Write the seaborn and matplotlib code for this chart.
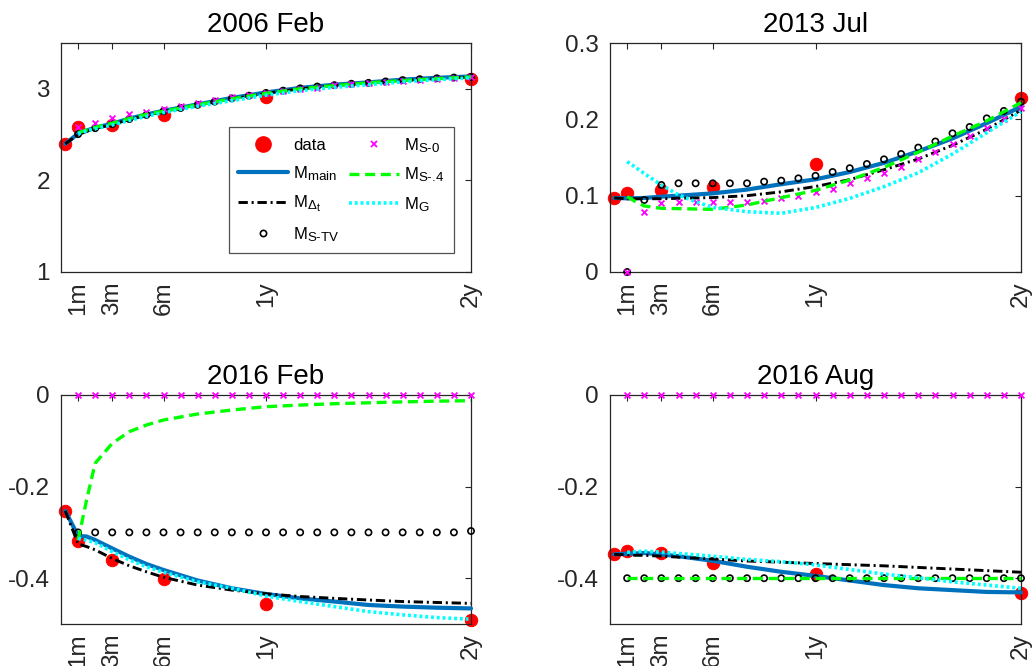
import numpy as np
import pandas as pd
import matplotlib
matplotlib.use("Agg")
import matplotlib.pyplot as plt
import matplotlib._mathtext as _mt
import seaborn as sns
from matplotlib.lines import Line2D

# ---------------- data ----------------
X_DATA = [0.25, 1, 3, 6, 12, 24]
X_LINE = [0.25, 1, 1.5, 2, 3, 4, 5, 6, 8, 10, 12, 14, 16, 18, 20, 22, 24]
X_MK = list(range(1, 25))
TICK_POS = [1, 3, 6, 12, 24]
TICK_LAB = ["1m", "3m", "6m", "1y", "2y"]
TITLES = ["2006 Feb", "2013 Jul", "2016 Feb", "2016 Aug"]
NAN = np.nan

# 2006 Feb
FEB06_DATA = [2.40, 2.58, 2.60, 2.71, 2.91, 3.11]
FEB06_MAIN = [2.40, 2.51, 2.545, 2.575, 2.62, 2.675, 2.72, 2.76, 2.83, 2.90, 2.96, 3.01, 3.045, 3.07, 3.10, 3.12, 3.135]
FEB06_DT = [2.40, 2.50, 2.535, 2.565, 2.61, 2.665, 2.71, 2.75, 2.82, 2.89, 2.95, 3.00, 3.035, 3.065, 3.09, 3.11, 3.13]
FEB06_S4 = [NAN, 2.52, 2.55, 2.58, 2.625, 2.675, 2.72, 2.755, 2.825, 2.89, 2.95, 3.00, 3.035, 3.065, 3.09, 3.11, 3.13]
FEB06_G = [NAN, 2.51, 2.54, 2.565, 2.605, 2.655, 2.70, 2.74, 2.81, 2.87, 2.93, 2.98, 3.015, 3.045, 3.075, 3.10, 3.12]
FEB06_S0 = [2.58, 2.63, 2.68, 2.72, 2.75, 2.78, 2.81, 2.85, 2.88, 2.91, 2.93, 2.95,
            2.98, 3.00, 3.01, 3.04, 3.05, 3.06, 3.07, 3.09, 3.10, 3.11, 3.12, 3.125]
FEB06_STV = [2.505, 2.57, 2.615, 2.67, 2.715, 2.755, 2.79, 2.825, 2.86, 2.895, 2.925, 2.955,
             2.98, 3.005, 3.025, 3.04, 3.055, 3.065, 3.08, 3.095, 3.105, 3.115, 3.123, 3.13]

# 2013 Jul
JUL13_DATA = [0.097, 0.103, 0.107, 0.111, 0.1415, 0.2275]
JUL13_MAIN = [0.097, 0.0965, 0.0967, 0.097, 0.0987, 0.100, 0.1015, 0.103, 0.108, 0.115, 0.1214, 0.131, 0.143, 0.158, 0.175, 0.195, 0.2166]
JUL13_DT = [0.097, 0.096, 0.096, 0.096, 0.096, 0.0965, 0.097, 0.0975, 0.100, 0.105, 0.112, 0.121, 0.134, 0.148, 0.166, 0.187, 0.212]
JUL13_S4 = [NAN, 0.0987, 0.092, 0.0865, 0.0834, 0.083, 0.0825, 0.0821, 0.0878, 0.0974, 0.107, 0.1205, 0.137, 0.157, 0.178, 0.198, 0.222]
JUL13_G = [NAN, 0.1445, 0.137, 0.129, 0.114, 0.101, 0.092, 0.0847, 0.079, 0.0769, 0.0845, 0.0965, 0.1118, 0.130, 0.1546, 0.1825, 0.210]
JUL13_S0 = [0.0, 0.078, 0.0904, 0.0917, 0.0917, 0.092, 0.0917, 0.0917, 0.0934, 0.0966, 0.0996, 0.105,
            0.109, 0.1166, 0.123, 0.130, 0.138, 0.148, 0.157, 0.168, 0.178, 0.1887, 0.201, 0.2144]
JUL13_STV = [0.0, 0.0943, 0.114, 0.1162, 0.1162, 0.1162, 0.1162, 0.1162, 0.1184, 0.1197, 0.1227, 0.126,
             0.131, 0.136, 0.1415, 0.1476, 0.1546, 0.163, 0.171, 0.1817, 0.190, 0.2013, 0.211, 0.223]

# 2016 Feb
FEB16_DATA = [-0.253, -0.319, -0.360, -0.402, -0.456, -0.491]
FEB16_MAIN = [-0.253, -0.3075, -0.309, -0.3166, -0.335, -0.353, -0.369, -0.382, -0.405, -0.422, -0.4345, -0.444, -0.451, -0.4585, -0.462, -0.4644, -0.466]
FEB16_DT = [-0.253, -0.325, -0.331, -0.338, -0.357, -0.373, -0.386, -0.398, -0.415, -0.426, -0.434, -0.440, -0.444, -0.4476, -0.451, -0.453, -0.455]
FEB16_S4 = [NAN, -0.317, -0.229, -0.149, -0.1055, -0.080, -0.0655, -0.0546, -0.0415, -0.0328, -0.0255, -0.022, -0.019, -0.017, -0.015, -0.0135, -0.0124]
FEB16_G = [NAN, -0.313, -0.317, -0.3225, -0.342, -0.360, -0.375, -0.387, -0.408, -0.422, -0.439, -0.451, -0.462, -0.473, -0.480, -0.486, -0.4895]
FEB16_S0 = [0.0] * 24
FEB16_STV = [-0.30] * 23 + [-0.297]

# 2016 Aug
AUG16_DATA = [-0.348, -0.340, -0.346, -0.366, -0.391, -0.433]
AUG16_MAIN = [-0.348, -0.3465, -0.346, -0.345, -0.348, -0.352, -0.357, -0.362, -0.375, -0.386, -0.395, -0.405, -0.415, -0.422, -0.426, -0.430, -0.431]
AUG16_DT = [-0.348, -0.349, -0.350, -0.350, -0.352, -0.354, -0.356, -0.358, -0.3625, -0.365, -0.368, -0.3705, -0.373, -0.3765, -0.380, -0.3835, -0.387]
AUG16_S4 = [NAN] + [-0.40] * 16
AUG16_G = [NAN, -0.3435, -0.342, -0.341, -0.343, -0.346, -0.349, -0.352, -0.359, -0.364, -0.371, -0.381, -0.391, -0.399, -0.408, -0.415, -0.422]
AUG16_S0 = [0.0] * 24
AUG16_STV = [-0.40] * 24

PANELS = [
    (FEB06_DATA, FEB06_MAIN, FEB06_DT, FEB06_STV, FEB06_S0, FEB06_S4, FEB06_G),
    (JUL13_DATA, JUL13_MAIN, JUL13_DT, JUL13_STV, JUL13_S0, JUL13_S4, JUL13_G),
    (FEB16_DATA, FEB16_MAIN, FEB16_DT, FEB16_STV, FEB16_S0, FEB16_S4, FEB16_G),
    (AUG16_DATA, AUG16_MAIN, AUG16_DT, AUG16_STV, AUG16_S0, AUG16_S4, AUG16_G),
]
YLIMS = [(1, 3.5), (0, 0.3), (-0.5, 0), (-0.5, 0)]
YTICKS = [[1, 2, 3], [0, 0.1, 0.2, 0.3], [-0.4, -0.2, 0], [-0.4, -0.2, 0]]
YTICKLAB = [["1", "2", "3"], ["0", "0.1", "0.2", "0.3"], ["-0.4", "-0.2", "0"], ["-0.4", "-0.2", "0"]]
LEGEND_LABELS = [
    "data",
    r"$\mathregular{M_{\text{main}}}$",
    r"$\mathregular{M_{\Delta_t}}$",
    r"$\mathregular{M_{\text{S-TV}}}$",
    r"$\mathregular{M_{\text{S-0}}}$",
    r"$\mathregular{M_{\text{S-.4}}}$",
    r"$\mathregular{M_{\text{G}}}$",
]

# ---------------- style ----------------
sns.set_theme(style="white")
plt.rcParams["font.family"] = ["Liberation Sans", "DejaVu Sans"]
plt.rcParams["axes.unicode_minus"] = False
plt.rcParams["mathtext.fontset"] = "custom"
plt.rcParams["mathtext.rm"] = "Liberation Sans"
plt.rcParams["mathtext.it"] = "Liberation Sans"
plt.rcParams["mathtext.sf"] = "Liberation Sans"
try:
    _mt.SHRINK_FACTOR = 0.8
except Exception:
    pass

AX_COL = "#262626"
C_BLUE = "#0072BD"
LS_DT = (0, (3.2, 1.3, 0.7, 1.3))
LS_S4 = (0, (3.0, 1.7))
LS_G = (0, (0.8, 0.8))

fig = plt.figure(figsize=(10.35, 6.66), dpi=100)
W, H = 1035, 666
boxes = [(61, 43, 471, 272), (610, 43, 1021, 272), (61, 395, 471, 624), (610, 395, 1021, 624)]


def line(ax, y, **kw):
    df = pd.DataFrame({"x": X_LINE, "y": y}).dropna()
    sns.lineplot(data=df, x="x", y="y", ax=ax, estimator=None, sort=False,
                 clip_on=False, legend=False, **kw)


for i, (box, vals) in enumerate(zip(boxes, PANELS)):
    l, t, r, b = box
    ax = fig.add_axes([l / W, 1 - b / H, (r - l) / W, (b - t) / H])
    d, m_main, m_dt, m_stv, m_s0, m_s4, m_g = vals
    sns.scatterplot(x=X_DATA, y=d, ax=ax, color="red", edgecolor="red", s=80,
                    clip_on=False, zorder=2, legend=False)
    line(ax, m_main, color=C_BLUE, linewidth=3.0, zorder=3)
    line(ax, m_dt, color="black", linewidth=2.1, linestyle=LS_DT, zorder=4)
    sns.scatterplot(x=X_MK, y=m_stv, ax=ax, marker="o", facecolor="none", edgecolor="black",
                    linewidth=1.2, s=20, clip_on=False, zorder=5, legend=False)
    sns.scatterplot(x=X_MK, y=m_s0, ax=ax, marker="x", color="#FF00FF",
                    linewidth=1.3, s=18, clip_on=False, zorder=6, legend=False)
    line(ax, m_s4, color="#00FF00", linewidth=2.4, linestyle=LS_S4, zorder=7)
    line(ax, m_g, color="#00FFFF", linewidth=2.6, linestyle=LS_G, zorder=8)

    ax.set_xlim(0, 24)
    ax.set_ylim(*YLIMS[i])
    ax.set_xticks(TICK_POS)
    ax.set_xticklabels(TICK_LAB, rotation=90)
    ax.set_yticks(YTICKS[i])
    ax.set_yticklabels(YTICKLAB[i])
    ax.set_xlabel("")
    ax.set_ylabel("")
    ax.set_title(TITLES[i], fontsize=20, color="black", pad=8)
    ax.tick_params(axis="both", direction="in", length=4, width=0.8, color=AX_COL,
                   labelsize=17.5, labelcolor=AX_COL, top=True, right=True)
    ax.tick_params(axis="y", pad=8)
    ax.tick_params(axis="x", pad=7)
    for s in ax.spines.values():
        s.set_visible(True)
        s.set_color(AX_COL)
        s.set_linewidth(0.9)
    ax.set_facecolor("white")

    if i == 0:
        handles = [
            Line2D([], [], color="red", marker="o", linestyle="none", markersize=11),
            Line2D([], [], color=C_BLUE, linewidth=3.0),
            Line2D([], [], color="black", linewidth=2.1, linestyle=LS_DT),
            Line2D([], [], color="black", marker="o", markerfacecolor="none", linestyle="none",
                   markersize=4.5, markeredgewidth=1.2),
            Line2D([], [], color="#FF00FF", marker="x", linestyle="none", markersize=4.5,
                   markeredgewidth=1.3),
            Line2D([], [], color="#00FF00", linewidth=2.4, linestyle=LS_S4),
            Line2D([], [], color="#00FFFF", linewidth=2.6, linestyle=LS_G),
        ]
        leg = ax.legend(handles, LEGEND_LABELS, ncol=2, loc="upper left",
                        bbox_to_anchor=(229 / W, 1 - 127 / H), bbox_transform=fig.transFigure,
                        fontsize=12, frameon=True, fancybox=False, handlelength=3.0,
                        handletextpad=0.3, columnspacing=0.6, labelspacing=0.65,
                        borderpad=0.55, borderaxespad=0)
        leg.get_frame().set_edgecolor(AX_COL)
        leg.get_frame().set_linewidth(0.9)
        leg.set_zorder(20)
        for txt in leg.get_texts():
            txt.set_color("black")

fig.savefig("out.png", dpi=100, facecolor="white")
